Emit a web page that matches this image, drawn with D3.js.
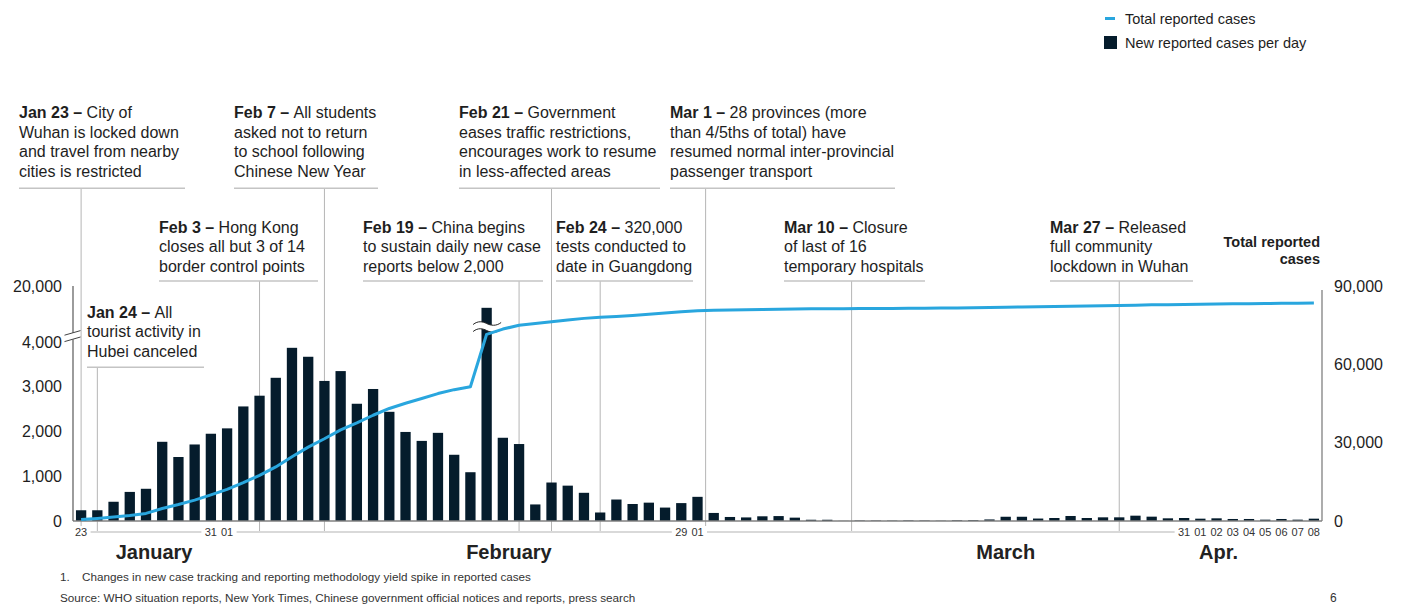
<!DOCTYPE html>
<html><head><meta charset="utf-8">
<script src="https://cdn.jsdelivr.net/npm/d3@7"></script>
<style>
body{margin:0;background:#fff;}
svg{display:block;font-family:"Liberation Sans",Arial,Helvetica,sans-serif;}
</style></head><body>
<svg id="c" width="1406" height="605"></svg>
<script>
// ---------------- DATA ----------------
const days = [
 "2020-01-23","2020-01-24","2020-01-25","2020-01-26","2020-01-27","2020-01-28","2020-01-29","2020-01-30","2020-01-31",
 "2020-02-01","2020-02-02","2020-02-03","2020-02-04","2020-02-05","2020-02-06","2020-02-07","2020-02-08","2020-02-09","2020-02-10",
 "2020-02-11","2020-02-12","2020-02-13","2020-02-14","2020-02-15","2020-02-16","2020-02-17","2020-02-18","2020-02-19","2020-02-20",
 "2020-02-21","2020-02-22","2020-02-23","2020-02-24","2020-02-25","2020-02-26","2020-02-27","2020-02-28","2020-02-29",
 "2020-03-01","2020-03-02","2020-03-03","2020-03-04","2020-03-05","2020-03-06","2020-03-07","2020-03-08","2020-03-09","2020-03-10",
 "2020-03-11","2020-03-12","2020-03-13","2020-03-14","2020-03-15","2020-03-16","2020-03-17","2020-03-18","2020-03-19","2020-03-20",
 "2020-03-21","2020-03-22","2020-03-23","2020-03-24","2020-03-25","2020-03-26","2020-03-27","2020-03-28","2020-03-29","2020-03-30","2020-03-31",
 "2020-04-01","2020-04-02","2020-04-03","2020-04-04","2020-04-05","2020-04-06","2020-04-07","2020-04-08"
];
const newCases = [
 240,240,430,650,720, 1770,1430,1710,1950,2070, 2560,2800,3200,3870,3670,
 3130,3350,2620,2950,2440, 1990,1790,1970,1480,1090, 15152,1860,1720,370,860,
 790,630,190,480,380, 410,300,400,540,180, 90,80,105,110,75,
 28,28,3,10,10, 8,12,10,6,15, 18,35,95,95,55,
 67,112,67,82,82, 119,97,60,67,52, 60,45,45,30,45, 30,52
];
const totalCases = [
 600,1000,1500,2100,2900, 4800,6300,8000,10000,12100, 14700,17500,20700,24600,28300,
 31500,34900,37600,40500,43100, 45100,46900,48800,50300,51400, 71500,73500,75000,75600,76300,
 77000,77600,78000,78300,78700, 79150,79650,80150,80550,80700, 80800,80900,81000,81100,81200,
 81250,81300,81330,81360,81390, 81420,81460,81500,81540,81590, 81650,81740,81850,81960,82040,
 82130,82250,82340,82440,82540, 82670,82780,82860,82940,83010, 83090,83160,83240,83300,83380, 83440,83520
];
const tickDays   = ["2020-01-23","2020-01-31","2020-02-01","2020-02-29","2020-03-01","2020-03-31","2020-04-01","2020-04-02","2020-04-03","2020-04-04","2020-04-05","2020-04-06","2020-04-07","2020-04-08"];
const tickLabels = ["23","31","01","29","01","31","01","02","03","04","05","06","07","08"];
const leftTicksLow = [0,1000,2000,3000,4000];
const leftTicksHigh = [20000];
const rightTicks = [0,30000,60000,90000];
const monthNames = ["January","February","March","Apr."];
const annotations = [
 {date:"2020-01-23", head:"Jan 23 \u2013", lines:["City of","Wuhan is locked down","and travel from nearby","cities is restricted"]},
 {date:"2020-01-24", head:"Jan 24 \u2013", lines:["All","tourist activity in","Hubei canceled"]},
 {date:"2020-02-03", head:"Feb 3 \u2013", lines:["Hong Kong","closes all but 3 of 14","border control points"]},
 {date:"2020-02-07", head:"Feb 7 \u2013", lines:["All students","asked not to return","to school following","Chinese New Year"]},
 {date:"2020-02-19", head:"Feb 19 \u2013", lines:["China begins","to sustain daily new case","reports below 2,000"]},
 {date:"2020-02-21", head:"Feb 21 \u2013", lines:["Government","eases traffic restrictions,","encourages work to resume","in less-affected areas"]},
 {date:"2020-02-24", head:"Feb 24 \u2013", lines:["320,000","tests conducted to","date in Guangdong"]},
 {date:"2020-03-01", head:"Mar 1 \u2013", lines:["28 provinces (more","than 4/5ths of total) have","resumed normal inter-provincial","passenger transport"]},
 {date:"2020-03-10", head:"Mar 10 \u2013", lines:["Closure","of last of 16","temporary hospitals"]},
 {date:"2020-03-27", head:"Mar 27 \u2013", lines:["Released","full community","lockdown in Wuhan"]}
];
const legendLabels = ["Total reported cases","New reported cases per day"];
const footnote = "Changes in new case tracking and reporting methodology yield spike in reported cases";
const source = "Source: WHO situation reports, New York Times, Chinese government official notices and reports, press search";

// ---------------- LAYOUT ----------------
const BAR = "#051c2c", BLUE = "#29a6de", TXT = "#1e1e1e";
const svg = d3.select("#c");
const X0 = 73, X1 = 1322, BASE = 521;
const x = d3.scaleBand().domain(days).range([X0, X1]).paddingInner(0.365).paddingOuter(0.1825);
const cx = d => x(d) + x.bandwidth()/2;
const yLow = d3.scaleLinear().domain([0,4000]).range([BASE,342]);
const yHigh = d3.scaleLinear().domain([10000,20000]).range([331,286]);
const yL = v => v <= 4400 ? yLow(v) : yHigh(v);
const yR = d3.scaleLinear().domain([0,90000]).range([BASE,286]);

// annotation layout: row, text x, underline end, line anchored at end of day
const annLayout = {
 "2020-01-23":{row:0, tx:19,  ux:185},
 "2020-02-07":{row:0, tx:234, ux:378},
 "2020-02-21":{row:0, tx:459, ux:660},
 "2020-03-01":{row:0, tx:670, ux:895, edge:true},
 "2020-02-03":{row:1, tx:159, ux:318},
 "2020-02-19":{row:1, tx:363, ux:543},
 "2020-02-24":{row:1, tx:556, ux:693},
 "2020-03-10":{row:1, tx:784, ux:925, edge:true},
 "2020-03-27":{row:1, tx:1050,ux:1193},
 "2020-01-24":{row:2, tx:87,  ux:204}
};
const rows = [{base:118.3, ul:188.3},{base:232.6, ul:281},{base:317.5, ul:367.3}];
const LH = 19.5;

// vertical annotation lines (behind bars)
const gAnnL = svg.append("g");
annotations.forEach(a => {
  const L = annLayout[a.date], r = rows[L.row];
  const lx = cx(a.date) + (L.edge ? x.step()/2 : 0);
  gAnnL.append("line").attr("x1",lx).attr("x2",lx).attr("y1",r.ul).attr("y2",533)
    .attr("stroke","#b5b5b5").attr("stroke-width",1);
  gAnnL.append("line").attr("x1",L.tx).attr("x2",L.ux).attr("y1",r.ul).attr("y2",r.ul)
    .attr("stroke","#c4c4c4").attr("stroke-width",1.5);
  const t = svg.append("text").attr("font-size",16).attr("fill",TXT);
  a.lines.forEach((ln,i) => {
    if (i === 0) {
      const tl = t.append("tspan").attr("x",L.tx).attr("y",r.base);
      tl.append("tspan").attr("font-weight","bold").text(a.head + " ");
      tl.append("tspan").text(ln);
    } else {
      t.append("tspan").attr("x",L.tx).attr("y",r.base + i*LH).text(ln);
    }
  });
});

// bottom tick strip
svg.append("line").attr("x1",X0).attr("x2",X1).attr("y1",532).attr("y2",532)
  .attr("stroke","#d9d9d9").attr("stroke-width",2);
const gT = svg.append("g").attr("font-size",11).attr("fill","#333");
tickDays.forEach((d,i) => {
  const tx = cx(d);
  gT.append("rect").attr("x",tx-9.5).attr("y",526).attr("width",19).attr("height",12).attr("fill","#fff");
});
tickDays.forEach((d,i) => {
  gT.append("text").attr("x",cx(d)).attr("y",536).attr("text-anchor","middle").text(tickLabels[i]);
});

// bars
svg.append("g").selectAll("rect").data(days).join("rect")
  .attr("x", d => x(d)).attr("width", x.bandwidth())
  .attr("y", (d,i) => yL(newCases[i]))
  .attr("height", (d,i) => BASE - yL(newCases[i]))
  .attr("fill", BAR);

// spike break
(function(){
  const sx = cx("2020-02-17");
  const a = sx - 13.5, b = sx + 14.5;
  const wave = (y0) => `M${a},${y0+1} C${a+5},${y0-3} ${sx-4},${y0-2} ${sx},${y0} S${b-5},${y0+3} ${b},${y0-1}`;
  const top = 323.5, bot = 330.5;
  svg.append("path")
    .attr("d", wave(top) + ` L${b},${bot-1} ` + `C${b-5},${bot+3} ${sx+4},${bot+2} ${sx},${bot} S${a+5},${bot-3} ${a},${bot+1} Z`)
    .attr("fill","#fff");
  svg.append("path").attr("d",wave(top)).attr("fill","none").attr("stroke","#222").attr("stroke-width",1);
  svg.append("path").attr("d",wave(bot)).attr("fill","none").attr("stroke","#222").attr("stroke-width",1);
})();

// baseline
svg.append("line").attr("x1",X0).attr("x2",X1).attr("y1",BASE).attr("y2",BASE)
  .attr("stroke","#808080").attr("stroke-width",1.5);

// total line
svg.append("path").datum(days)
  .attr("d", d3.line().x(d => cx(d)).y((d,i) => yR(totalCases[i])))
  .attr("fill","none").attr("stroke",BLUE).attr("stroke-width",3).attr("stroke-linejoin","round");

// left axis
svg.append("line").attr("x1",X0).attr("x2",X0).attr("y1",286).attr("y2",BASE)
  .attr("stroke","#666").attr("stroke-width",1.3);
svg.append("path").attr("d","M66,334.8 L80,330.8 L80,337.6 L66,341.6 Z").attr("fill","#fff");
svg.append("line").attr("x1",64.5).attr("y1",335.2).attr("x2",80.5).attr("y2",330.6).attr("stroke","#444").attr("stroke-width",1);
svg.append("line").attr("x1",64.5).attr("y1",341.6).attr("x2",80.5).attr("y2",337.0).attr("stroke","#444").attr("stroke-width",1);

const styleAxis = g => { g.select(".domain").remove(); g.selectAll("text").attr("font-size",16).attr("fill",TXT).attr("font-family","'Liberation Sans',Arial,sans-serif"); };
svg.append("g").attr("transform",`translate(${X0},0)`)
  .call(d3.axisLeft(yLow).tickValues(leftTicksLow).tickSize(0).tickPadding(11).tickFormat(d3.format(",")))
  .call(styleAxis);
svg.append("g").attr("transform",`translate(${X0},0)`)
  .call(d3.axisLeft(yHigh).tickValues(leftTicksHigh).tickSize(0).tickPadding(11).tickFormat(d3.format(",")))
  .call(styleAxis);

// right axis
svg.append("line").attr("x1",X1).attr("x2",X1).attr("y1",290).attr("y2",BASE)
  .attr("stroke","#808080").attr("stroke-width",1.3);
svg.append("g").attr("transform",`translate(${X1},0)`)
  .call(d3.axisRight(yR).tickValues(rightTicks).tickSize(0).tickPadding(12).tickFormat(d3.format(",")))
  .call(styleAxis);
svg.append("text").attr("x",1320).attr("y",247).attr("text-anchor","end").attr("font-size",14.5)
  .attr("font-weight","bold").attr("fill",TXT)
  .call(t => { t.append("tspan").attr("x",1320).text("Total reported"); t.append("tspan").attr("x",1320).attr("dy",17).text("cases"); });

// month labels
const monthAnchors = [cx("2020-01-27")+x.step()/2, cx("2020-02-18")+x.step()/2 - 2, cx("2020-03-20"), cx("2020-04-02")+2];
monthNames.forEach((m,i) => {
  svg.append("text").attr("x",monthAnchors[i]).attr("y",559).attr("text-anchor","middle")
    .attr("font-size",20).attr("font-weight","bold").attr("fill","#222").text(m);
});

// legend
svg.append("line").attr("x1",1105).attr("x2",1115).attr("y1",18.5).attr("y2",18.5).attr("stroke",BLUE).attr("stroke-width",3);
svg.append("text").attr("x",1125).attr("y",24).attr("font-size",14.5).attr("fill",TXT).text(legendLabels[0]);
svg.append("rect").attr("x",1104).attr("y",36).attr("width",13).attr("height",13).attr("fill",BAR);
svg.append("text").attr("x",1125).attr("y",48).attr("font-size",14.5).attr("fill",TXT).text(legendLabels[1]);

// footnotes
svg.append("text").attr("x",60).attr("y",581).attr("font-size",11.7).attr("fill","#333").text("1.");
svg.append("text").attr("x",82).attr("y",581).attr("font-size",11.7).attr("fill","#333").text(footnote);
svg.append("text").attr("x",60).attr("y",602).attr("font-size",11.7).attr("fill","#333").text(source);
svg.append("text").attr("x",1330).attr("y",602).attr("font-size",12).attr("fill","#333").text("6");
</script>
</body></html>
